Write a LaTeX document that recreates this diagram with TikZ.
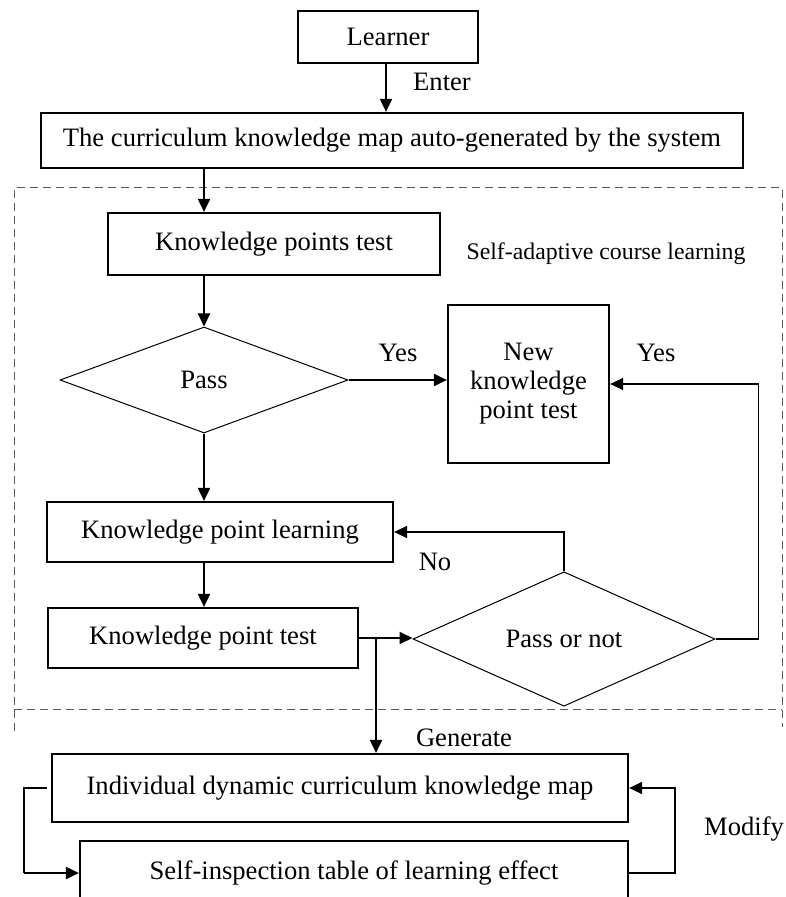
\documentclass[tikz,border=0pt]{standalone}
\usepackage{fontspec}
\setmainfont{Liberation Serif}
\usetikzlibrary{arrows.meta,shapes.geometric,calc}

\begin{document}
\begin{tikzpicture}[x=0.5pt,y=-0.5pt,
  >={Triangle[length=6.5pt,width=6pt]},
  every node/.style={font=\fontsize{13.3}{14.5}\selectfont},
  box/.style={draw, line width=1.1pt, inner sep=0pt, align=center},
  decide/.style={diamond, draw, line width=0.5pt, inner sep=0pt},
  link/.style={->, line width=1pt},
  frame/.style={gray!70!black, line width=0.5pt, dash pattern=on 4pt off 2.5pt}]
\useasboundingbox (0,0) rectangle (785,897);
\clip (0,0) rectangle (785,897);

% self-adaptive part
\draw[frame] (14,731) -- (14,188) -- (782,188) -- (782,727);
\draw[frame] (14,709) -- (782,709);
\node[font=\fontsize{11.9}{13}\selectfont] (adapt) at (606,254) {Self-adaptive course learning};

\node[box, minimum width=90pt, minimum height=26pt] (learner) at (388,37) {Learner};
\node[box, minimum width=351pt, minimum height=27.5pt] (curr) at (392,140.5)
  {The curriculum knowledge map auto-generated by the system};
\node[box, minimum width=166pt, minimum height=31pt] (kpt) at (274,244) {Knowledge points test};
\node[decide, minimum width=144pt, minimum height=53pt] (pass) at (204,380) {Pass};
\node[box, minimum width=80.5pt, minimum height=79pt] (newkp) at (528.5,384)
  {New\\knowledge\\point test};
\node[box, minimum width=173pt, minimum height=30pt] (kpl) at (220,532) {Knowledge point learning};
\node[box, minimum width=155pt, minimum height=30pt] (kpt2) at (203,638) {Knowledge point test};
\node[decide, minimum width=151pt, minimum height=53pt] (passnot) at (564,639) {Pass or not};
\node[box, minimum width=288pt, minimum height=34pt] (indiv) at (340,788)
  {Individual dynamic curriculum knowledge map};
\node[box, minimum width=274pt, minimum height=32pt] (selfchk) at (354,873)
  {Self-inspection table of learning effect};

% labels
\node (enter) at (442,82) {Enter};
\node (yesa) at (398,353) {Yes};
\node (yesb) at (656,353) {Yes};
\node (no) at (435,562) {No};
\node (gener) at (464,738) {Generate};
\node (modify) at (744,829) {Modify};

% connectors
\draw[link] (learner.south -| 386,0) -- (curr.north -| 386,0);
\draw[link] (curr.south -| pass.north) -- (kpt.north -| pass.north);
\draw[link] (kpt.south -| pass.north) -- (pass.north);
\draw[link] (pass.east) -- (pass.east -| newkp.west);
\draw[link] (pass.south) -- (pass.south |- kpl.north);
\draw[->, line width=0.7pt] (passnot.north) |- (kpl.east);
\draw[link] (kpl.south -| pass.south) -- (kpt2.north -| pass.south);
\draw[link] (kpt2.east) -- (kpt2.east -| passnot.west);
\draw[->, line width=0.7pt] (passnot.east) -- ++(43,0) |- (newkp.east);
\coordinate (branch) at (376,639);
\draw[link] (branch) -- (branch |- indiv.north);
\draw[line width=0.7pt] ([xshift=-2pt]indiv.west) -- ++(-23,0) coordinate (lcorner)
  -- (lcorner |- selfchk.west);
\draw[link] (lcorner |- selfchk.west) -- (selfchk.west);
\draw[->, line width=0.7pt] (selfchk.east) -- ++(46,0) |- (indiv.east);
\end{tikzpicture}
\end{document}
